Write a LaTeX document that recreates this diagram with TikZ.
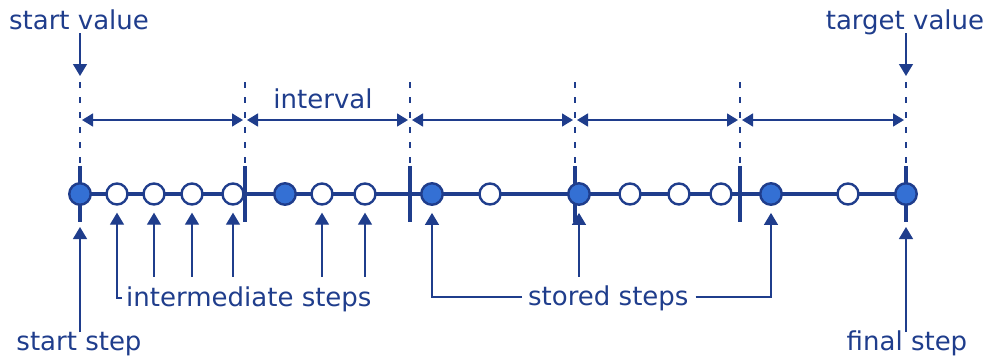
\documentclass[tikz,border=0pt]{standalone}
\usepackage{fontspec}
\setmainfont{DejaVu Sans}
\usetikzlibrary{arrows.meta,calc}
\definecolor{navy}{RGB}{31,61,140}
\definecolor{fillblue}{RGB}{52,112,212}
\begin{document}
\begin{tikzpicture}[x=1pt,y=-1pt,
  mainline/.style={navy,line width=3.2pt},
  tickline/.style={navy,line width=3.8pt},
  dashline/.style={navy,line width=1.2pt,dash pattern=on 6pt off 9pt},
  arr/.style={navy,line width=1.4pt,-{Triangle[width=14pt,length=12pt]}},
  dimarr/.style={navy,line width=1.4pt,{Triangle[width=13pt,length=11pt]}-{Triangle[width=13pt,length=11pt]}},
  stored/.style={circle,draw=navy,fill=fillblue,line width=2.4pt,minimum size=21.5pt,inner sep=0pt},
  inter/.style={circle,draw=navy,fill=white,line width=2.4pt,minimum size=21pt,inner sep=0pt},
  lbl/.style={text=navy,font=\fontsize{26}{30}\selectfont,inner sep=0pt,anchor=base}]
\useasboundingbox (0,0) rectangle (989,356);
% tick coordinates
\foreach \i/\x in {0/80,1/245,2/410,3/575,4/740,5/906}{
  \coordinate (t\i) at (\x,194);
  \coordinate (tt\i) at (\x,166);
  \coordinate (tb\i) at (\x,222);
  \coordinate (dt\i) at (\x,82);
}
% main line and ticks
\draw[mainline] (t0) -- (t5);
\foreach \i in {0,...,5}{
  \draw[tickline] (tt\i) -- (tb\i);
  \draw[dashline] (dt\i) -- (tt\i);
}
% interval arrows
\foreach \i/\j in {0/1,1/2,2/3,3/4,4/5}{
  \draw[dimarr] ($(t\i|-0,120)+(2,0)$) -- ($(t\j|-0,120)+(-2,0)$);
}
\node[lbl] (intv) at (323,108) {interval};
% labels top
\node[lbl] (sv) at (79,29) {start value};
\node[lbl] (tv) at (905,29) {target value};
\coordinate (svs) at (80,33);
\coordinate (svt) at (80,76);
\coordinate (tvs) at (906,33);
\coordinate (tvt) at (906,76);
\draw[arr] (svs) -- (svt);
\draw[arr] (tvs) -- (tvt);
% circles
\node[stored] (s0) at (80,194) {};
\node[inter] (c1) at (117,194) {};
\node[inter] (c2) at (154,194) {};
\node[inter] (c3) at (192,194) {};
\node[inter] (c4) at (233,194) {};
\node[stored] (s1) at (285,194) {};
\node[inter] (c5) at (322,194) {};
\node[inter] (c6) at (365,194) {};
\node[stored] (s2) at (432,194) {};
\node[inter] (c7) at (490,194) {};
\node[stored] (s3) at (579,194) {};
\node[inter] (c8) at (630,194) {};
\node[inter] (c9) at (679,194) {};
\node[inter] (c10) at (721,194) {};
\node[stored] (s4) at (771,194) {};
\node[inter] (c11) at (848,194) {};
\node[stored] (s5) at (906,194) {};
% bottom labels
\node[lbl] (ss) at (79,350) {start step};
\node[lbl] (fs) at (907,350) {final step};
\node[lbl,anchor=base west] (ism) at (126,306) {intermediate steps};
\node[lbl,anchor=base west] (sts) at (528,305) {stored steps};
% arrows bottom
\coordinate (sss) at (80,332);
\coordinate (sst) at (80,227);
\coordinate (fss) at (906,332);
\coordinate (fst) at (906,227);
\draw[arr] (sss) -- (sst);
\draw[arr] (fss) -- (fst);
\draw[arr] ($(ism.base west)+(-4,-8)$) -| ($(c1.south)+(0,7)$);
\foreach \c in {c2,c3,c4,c5,c6}{
  \draw[arr] ($(\c.south)+(0,71)$) -- ($(\c.south)+(0,7)$);
}
\draw[arr] ($(sts.base west)+(-6,-8)$) -| ($(s2.south)+(0,7)$);
\draw[arr] ($(sts.base east)+(7,-8)$) -| ($(s4.south)+(0,7)$);
\draw[arr] ($(s3.south)+(0,71)$) -- ($(s3.south)+(0,7)$);
\end{tikzpicture}
\end{document}
